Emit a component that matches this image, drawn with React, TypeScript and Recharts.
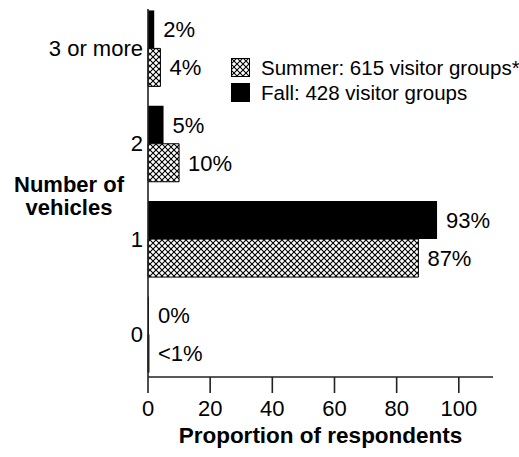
import React from "react";
import { BarChart, Bar, XAxis, YAxis, LabelList } from "recharts";

// number of vehicles per visitor group, bottom to top
const categories = ["0", "1", "2", "3 or more"];
const summerValues = [0.3, 87, 10, 4];
const fallValues = [0, 93, 5, 2];
const summerLabels = ["<1%", "87%", "10%", "4%"];
const fallLabels = ["0%", "93%", "5%", "2%"];
const xTicks = [0, 20, 40, 60, 80, 100];
const summerName = "Summer: 615 visitor groups*";
const fallName = "Fall: 428 visitor groups";

const FONT = "'Liberation Sans', Arial, sans-serif";

const data = categories.map((name, i) => ({
  pos: i,
  name,
  summer: summerValues[i],
  fall: fallValues[i],
  summerLabel: summerLabels[i],
  fallLabel: fallLabels[i],
}));

const HatchDef = ({ id }: { id: string }) => (
  <defs>
    <pattern id={id} width={6} height={6} patternUnits="userSpaceOnUse">
      <rect width={6} height={6} fill="#fff" />
      <path d="M0,0 L6,6 M6,0 L0,6" stroke="#000" strokeWidth={1.1} />
    </pattern>
  </defs>
);

const LegendBox = () => (
  <div
    style={{
      position: "absolute",
      left: 231,
      top: 55,
      fontFamily: FONT,
      fontSize: 20.5,
      lineHeight: "25px",
      color: "#000",
    }}
  >
    <div style={{ display: "flex", alignItems: "center" }}>
      <svg width={19} height={19} style={{ marginRight: 11 }}>
        <HatchDef id="hatchLegend" />
        <rect x={0.5} y={0.5} width={18} height={18} fill="url(#hatchLegend)" stroke="#000" />
      </svg>
      <span style={{ whiteSpace: "nowrap" }}>{summerName}</span>
    </div>
    <div style={{ display: "flex", alignItems: "center" }}>
      <svg width={19} height={19} style={{ marginRight: 11 }}>
        <rect width={19} height={19} fill="#000" />
      </svg>
      <span style={{ whiteSpace: "nowrap" }}>{fallName}</span>
    </div>
  </div>
);

export default function App() {
  const labelStyle = { fontFamily: FONT, fontSize: 22, fill: "#000" };
  return (
    <div style={{ position: "absolute", left: 0, top: 0, width: 519, height: 457, background: "#fff" }}>
      <BarChart
        width={519}
        height={457}
        data={data}
        layout="vertical"
        barGap={0}
        barSize={38}
        margin={{ top: 9, right: 26, bottom: 20, left: 48 }}
      >
        <HatchDef id="hatchBar" />
        <XAxis
          type="number"
          domain={[0, 111]}
          ticks={xTicks}
          height={60}
          tickSize={16}
          tickMargin={7}
          axisLine={{ stroke: "#222", strokeWidth: 1.6 }}
          tickLine={{ stroke: "#222", strokeWidth: 1.6 }}
          tick={{ fontFamily: FONT, fontSize: 22, fill: "#000" }}
        />
        <YAxis
          type="number"
          dataKey="pos"
          domain={[-0.45, 3.41]}
          allowDataOverflow
          reversed
          ticks={[0, 1, 2, 3]}
          tickFormatter={(v: number) => categories[v]}
          width={100}
          tickSize={0}
          tickMargin={5}
          axisLine={{ stroke: "#222", strokeWidth: 1.6 }}
          tick={{ fontFamily: FONT, fontSize: 22, fill: "#000" }}
        />
        <Bar dataKey="fall" fill="#000" minPointSize={1} isAnimationActive={false}>
          <LabelList dataKey="fallLabel" position="right" offset={9} style={labelStyle} />
        </Bar>
        <Bar
          dataKey="summer"
          fill="url(#hatchBar)"
          stroke="#000"
          strokeWidth={1}
          isAnimationActive={false}
        >
          <LabelList dataKey="summerLabel" position="right" offset={9} style={labelStyle} />
        </Bar>
      </BarChart>
      <LegendBox />
      <div
        style={{
          position: "absolute",
          left: 0,
          top: 173,
          width: 138,
          textAlign: "center",
          fontFamily: FONT,
          fontWeight: "bold",
          fontSize: 22,
          lineHeight: "23px",
          color: "#000",
        }}
      >
        <div>Number of</div>
        <div>vehicles</div>
      </div>
      <div
        style={{
          position: "absolute",
          left: 148,
          top: 424,
          width: 345,
          textAlign: "center",
          fontFamily: FONT,
          fontWeight: "bold",
          fontSize: 22.5,
          lineHeight: "24px",
          color: "#000",
        }}
      >
        Proportion of respondents
      </div>
    </div>
  );
}
